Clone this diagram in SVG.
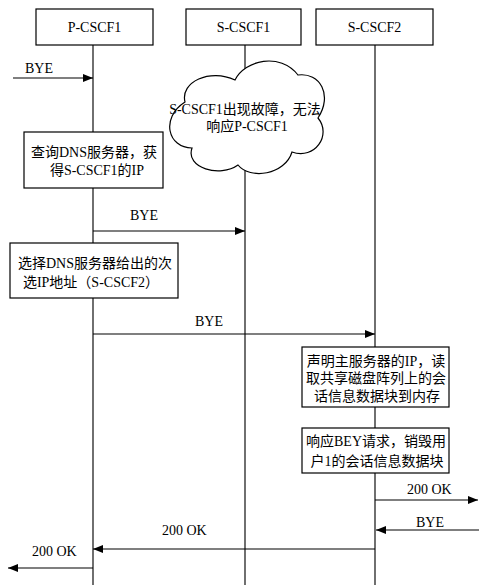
<svg xmlns="http://www.w3.org/2000/svg" width="479" height="585" viewBox="0 0 479 585">
<defs>
<marker id="ah" markerUnits="userSpaceOnUse" markerWidth="11" markerHeight="9" refX="10" refY="4" orient="auto">
<path d="M0,0 L10,4 L0,8 Z" fill="#000"/>
</marker>
</defs>
<style>
text{font-family:"Liberation Serif","Noto Sans CJK SC",serif;font-size:14px;fill:#000}
.c{text-anchor:middle}
.box{fill:#fff;stroke:#000;stroke-width:1.2}
.life{stroke:#222;stroke-width:1.3;fill:none}
.msg{stroke:#000;stroke-width:1.2;fill:none;marker-end:url(#ah)}
</style>
<rect width="479" height="585" fill="#fff"/>
<g id="lifelines">
<line class="life" x1="93" y1="45" x2="93" y2="585"/>
<line class="life" x1="245" y1="45" x2="245" y2="585"/>
<line class="life" x1="375" y1="45" x2="375" y2="585"/>
</g>
<g id="p-cscf1"><rect class="box" x="36" y="9" width="117" height="36"/><text class="c" x="94.5" y="32">P-CSCF1</text></g>
<g id="s-cscf1"><rect class="box" x="186" y="9" width="115" height="36"/><text class="c" x="243.5" y="32">S-CSCF1</text></g>
<g id="s-cscf2"><rect class="box" x="316" y="9" width="117" height="36"/><text class="c" x="374.5" y="32">S-CSCF2</text></g>
<g id="cloud">
<path class="box" d="M185,102 C180,82 210,68 235,80 C245,60 280,52 298,75 C320,72 333,95 318,118 C332,135 315,160 292,152 C285,175 250,180 238,165 C220,178 185,168 192,148 C168,148 160,118 185,102 Z"/>
<text class="c" x="245" y="114">S-CSCF1出现故障，无法</text>
<text class="c" x="247" y="131">响应P-CSCF1</text>
</g>
<g id="step1"><rect class="box" x="24" y="132" width="139" height="56"/><text class="c" x="94" y="157">查询DNS服务器，获</text><text class="c" x="97" y="175">得S-CSCF1的IP</text></g>
<g id="step2"><rect class="box" x="10" y="243" width="168" height="55"/><text class="c" x="95" y="268">选择DNS服务器给出的次</text><text class="c" x="91" y="287">选IP地址（S-CSCF2）</text></g>
<g id="step3"><rect class="box" x="302" y="347" width="147" height="60"/><text class="c" x="376" y="366">声明主服务器的IP，读</text><text class="c" x="376" y="383">取共享磁盘阵列上的会</text><text class="c" x="377" y="401">话信息数据块到内存</text></g>
<g id="step4"><rect class="box" x="302" y="428" width="147" height="45"/><text class="c" x="376" y="446">响应BEY请求，销毁用</text><text class="c" x="377" y="466">户1的会话信息数据块</text></g>
<g id="connectors">
<line class="msg" x1="13" y1="78" x2="93" y2="78"/>
<text x="25" y="73">BYE</text>
<line class="msg" x1="93" y1="231" x2="245" y2="231"/>
<text x="130" y="220">BYE</text>
<line class="msg" x1="93" y1="334" x2="375" y2="334"/>
<text x="195" y="326">BYE</text>
<line class="msg" x1="375" y1="500" x2="478" y2="500"/>
<text x="407" y="494">200 OK</text>
<line class="msg" x1="479" y1="530" x2="376" y2="530"/>
<text x="416" y="527">BYE</text>
<line class="msg" x1="375" y1="549" x2="93" y2="549"/>
<text x="162" y="535">200 OK</text>
<line class="msg" x1="93" y1="568" x2="8" y2="568"/>
<text x="32" y="556">200 OK</text>
</g>
</svg>
